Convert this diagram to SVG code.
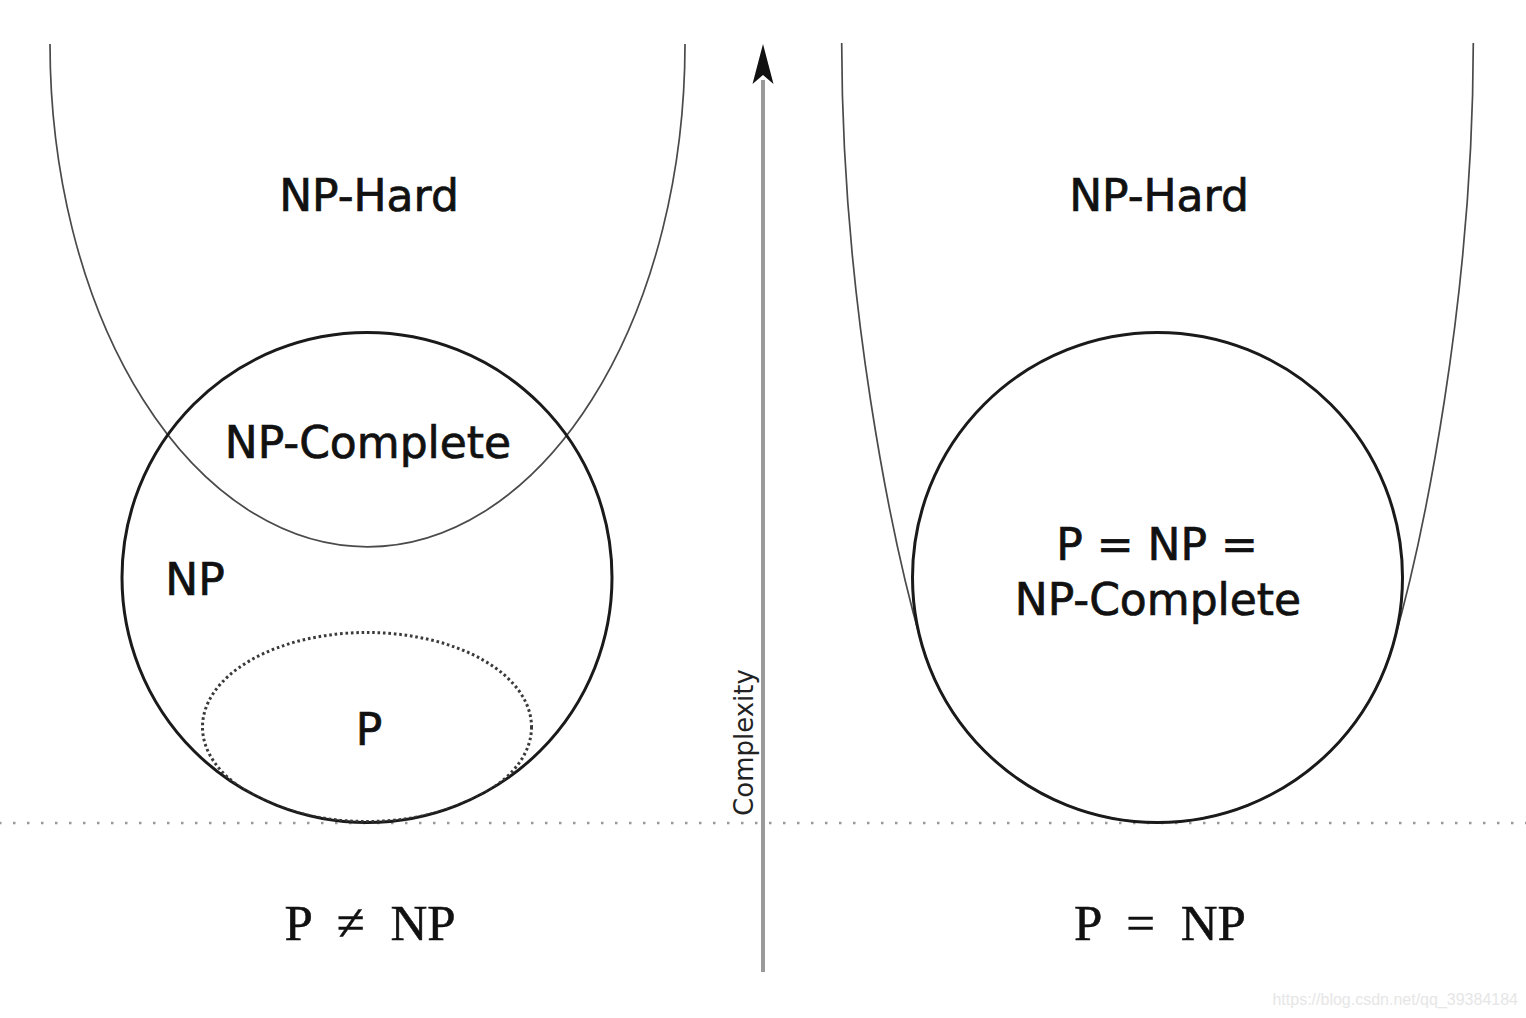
<svg xmlns="http://www.w3.org/2000/svg" width="1526" height="1018" viewBox="0 0 1526 1018">
  <style>
    .lbl { font-family: "DejaVu Sans", "Liberation Sans", sans-serif; font-size: 44px; fill: #111; stroke: #111; stroke-width: 0.7px; text-anchor: middle; }
    .eq { font-family: "Liberation Serif", "DejaVu Serif", serif; font-size: 51px; fill: #111; stroke: #111; stroke-width: 0.5px; text-anchor: middle; word-spacing: 13px; }
    .set { fill: none; stroke: #1a1a1a; stroke-width: 3; }
    .hard { fill: none; stroke: #4a4a4a; stroke-width: 1.7; }
    .pset { fill: none; stroke: #3a3a3a; stroke-width: 3; stroke-dasharray: 2.6 2.8; }
  </style>
  <defs>
    <marker id="arrowhead" markerUnits="userSpaceOnUse" viewBox="0 -11 40 22" markerWidth="40" markerHeight="22" refX="4" refY="0" orient="auto">
      <path d="M40 0 L0 -10.5 L9 0 L0 10.5 Z" fill="#111"/>
    </marker>
    <clipPath id="npclip">
      <circle cx="367" cy="577.5" r="245"/>
    </clipPath>
  </defs>
  <rect width="1526" height="1018" fill="#ffffff"/>

  <!-- baseline (P level) -->
  <line x1="-1" y1="823" x2="1526" y2="823" stroke="#999" stroke-width="2.5" stroke-dasharray="2.5 11.5"/>

  <!-- Left: P != NP -->
  <g id="np-hard-left">
    <path class="hard" d="M50 44 A317.5 503 0 0 0 685 44"/>
    <text class="lbl" x="369" y="211">NP-Hard</text>
  </g>
  <g id="np-left">
    <circle class="set" cx="367" cy="577.5" r="245"/>
    <text class="lbl" x="195" y="595">NP</text>
  </g>
  <g id="np-complete-left">
    <text class="lbl" x="368" y="458">NP-Complete</text>
  </g>
  <g id="p-left">
    <ellipse class="pset" cx="367" cy="727" rx="164.5" ry="94.5" clip-path="url(#npclip)"/>
    <text class="lbl" x="369" y="745">P</text>
  </g>
  <g id="caption-left">
    <text class="eq" x="370" y="940">P ≠ NP</text>
  </g>

  <!-- Right: P = NP -->
  <g id="np-hard-right">
    <path class="hard" d="M841.7 43 C842 300 891.9 540 922 645 A245 245 0 0 0 1393 645 C1423.1 540 1473 300 1473.3 43"/>
    <text class="lbl" x="1159" y="211">NP-Hard</text>
  </g>
  <g id="p-np-npc-right">
    <circle class="set" cx="1157.5" cy="577.5" r="245"/>
    <text class="lbl" x="1157" y="560">P = NP =</text>
    <text class="lbl" x="1158" y="615">NP-Complete</text>
  </g>
  <g id="caption-right">
    <text class="eq" x="1160" y="940">P = NP</text>
  </g>

  <!-- Complexity axis -->
  <g id="connectors">
    <line x1="763" y1="972" x2="763" y2="80" stroke="#9a9a9a" stroke-width="4" marker-end="url(#arrowhead)"/>
  </g>
  <g id="axis-label">
    <text transform="translate(753 742.5) rotate(-90)" font-family="DejaVu Sans, Liberation Sans, sans-serif" font-size="26" fill="#222" text-anchor="middle">Complexity</text>
  </g>

  <g id="watermark">
    <text x="1518" y="1005" font-family="Liberation Sans, Arial, sans-serif" font-size="16" fill="#e6e6e6" text-anchor="end">https://blog.csdn.net/qq_39384184</text>
  </g>
</svg>
